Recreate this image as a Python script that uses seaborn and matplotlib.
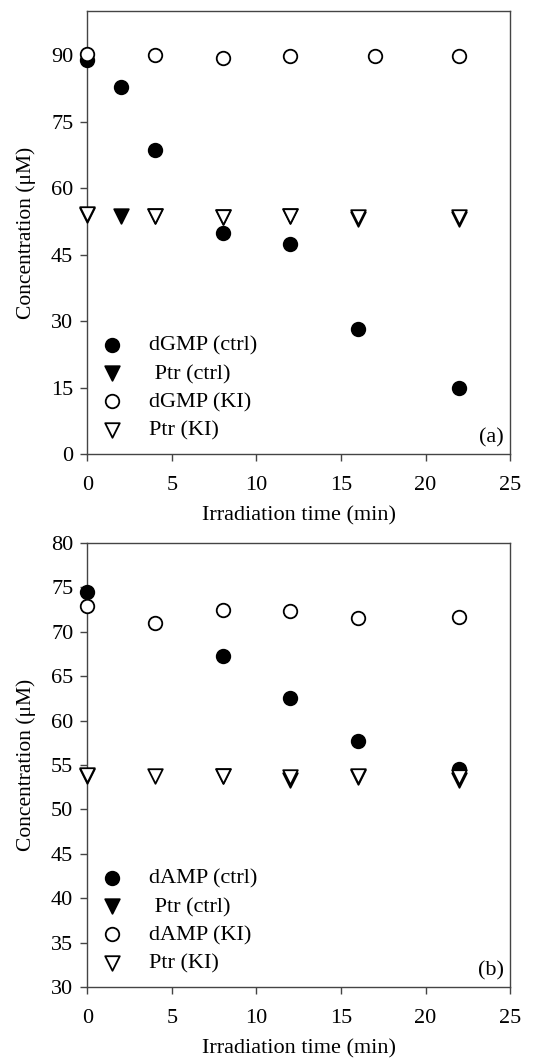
import numpy as np
import pandas as pd
import matplotlib.pyplot as plt
import seaborn as sns

# panel (a): dGMP
a_ctrl_t = [0, 2, 4, 8, 12, 16, 22]
a_dgmp_ctrl = [89.0, 82.8, 68.6, 49.8, 47.3, 28.3, 14.9]
a_ptr_ctrl = [54.0, 53.8, 53.8, 53.4, 53.8, 53.0, 53.0]
a_ki_t = [0, 4, 8, 12, 17, 22]
a_dgmp_ki = [90.4, 90.0, 89.5, 89.8, 89.8, 89.8]
a_ptr_ki_t = [0, 4, 8, 12, 16, 22]
a_ptr_ki = [54.2, 53.8, 53.4, 53.8, 53.5, 53.5]

# panel (b): dAMP
b_ctrl_t = [0, 8, 12, 16, 22]
b_damp_ctrl = [74.5, 67.3, 62.5, 57.7, 54.6]
b_ptr_ctrl = [53.8, 53.8, 53.3, 53.6, 53.3]
b_ki_t = [0, 4, 8, 12, 16, 22]
b_damp_ki = [72.9, 71.0, 72.5, 72.3, 71.5, 71.7]
b_ptr_ki = [53.9, 53.8, 53.8, 53.6, 53.8, 53.7]

sns.set_style("ticks")
plt.rcParams['font.family'] = ['Liberation Serif', 'DejaVu Serif']
plt.rcParams['text.color'] = 'black'
plt.rcParams['axes.labelcolor'] = 'black'
plt.rcParams['xtick.labelcolor'] = 'black'
plt.rcParams['ytick.labelcolor'] = 'black'

FS = 16

fig = plt.figure(figsize=(5.45, 10.59), dpi=100)
ax_a = fig.add_axes([0.16, 0.5713, 0.776, 0.4183])
ax_b = fig.add_axes([0.16, 0.068, 0.776, 0.4193])

def draw(ax, nuc, ctrl_t, nuc_ctrl, ptr_ctrl, ki_t, nuc_ki, ptr_ki_t, ptr_ki):
    series = [
        (ctrl_t, nuc_ctrl, 'o', 'black', f'{nuc} (ctrl)', 95),
        (ctrl_t, ptr_ctrl, 'v', 'black', ' Ptr (ctrl)', 110),
        (ki_t, nuc_ki, 'o', 'white', f'{nuc} (KI)', 95),
        (ptr_ki_t, ptr_ki, 'v', 'white', 'Ptr (KI)', 110),
    ]
    for t, v, m, fc, lab, s in series:
        df = pd.DataFrame({'t': t, 'c': v})
        sns.scatterplot(data=df, x='t', y='c', ax=ax, marker=m, s=s,
                        color=fc, edgecolor='black', linewidth=1.3, label=lab,
                        zorder=3, clip_on=False)
    ax.set_xlim(0, 25)
    ax.set_xticks(range(0, 26, 5))
    ax.set_xlabel('Irradiation time (min)', fontsize=FS, labelpad=8)
    ax.set_ylabel('Concentration (μM)', fontsize=15.5, labelpad=11)
    ax.tick_params(labelsize=FS, direction='out', length=5, width=1, color='#444444')
    ax.tick_params(axis='x', pad=11)
    ax.tick_params(axis='y', pad=5)
    for sp in ax.spines.values():
        sp.set_visible(True)
        sp.set_color('#444444')
        sp.set_linewidth(1)
    ax.legend(loc='lower left', frameon=False, fontsize=FS,
              handlelength=1.0, handletextpad=1.2, labelspacing=0.35,
              borderaxespad=0.2)

draw(ax_a, 'dGMP', a_ctrl_t, a_dgmp_ctrl, a_ptr_ctrl, a_ki_t, a_dgmp_ki, a_ptr_ki_t, a_ptr_ki)
ax_a.set_ylim(0, 100)
ax_a.set_yticks(range(0, 91, 15))
ax_a.text(0.985, 0.015, '(a)', transform=ax_a.transAxes, ha='right', va='bottom', fontsize=FS)

draw(ax_b, 'dAMP', b_ctrl_t, b_damp_ctrl, b_ptr_ctrl, b_ki_t, b_damp_ki, b_ki_t, b_ptr_ki)
ax_b.set_ylim(30, 80)
ax_b.set_yticks(range(30, 81, 5))
ax_b.text(0.985, 0.015, '(b)', transform=ax_b.transAxes, ha='right', va='bottom', fontsize=FS)

fig.savefig('out.png', dpi=100)
